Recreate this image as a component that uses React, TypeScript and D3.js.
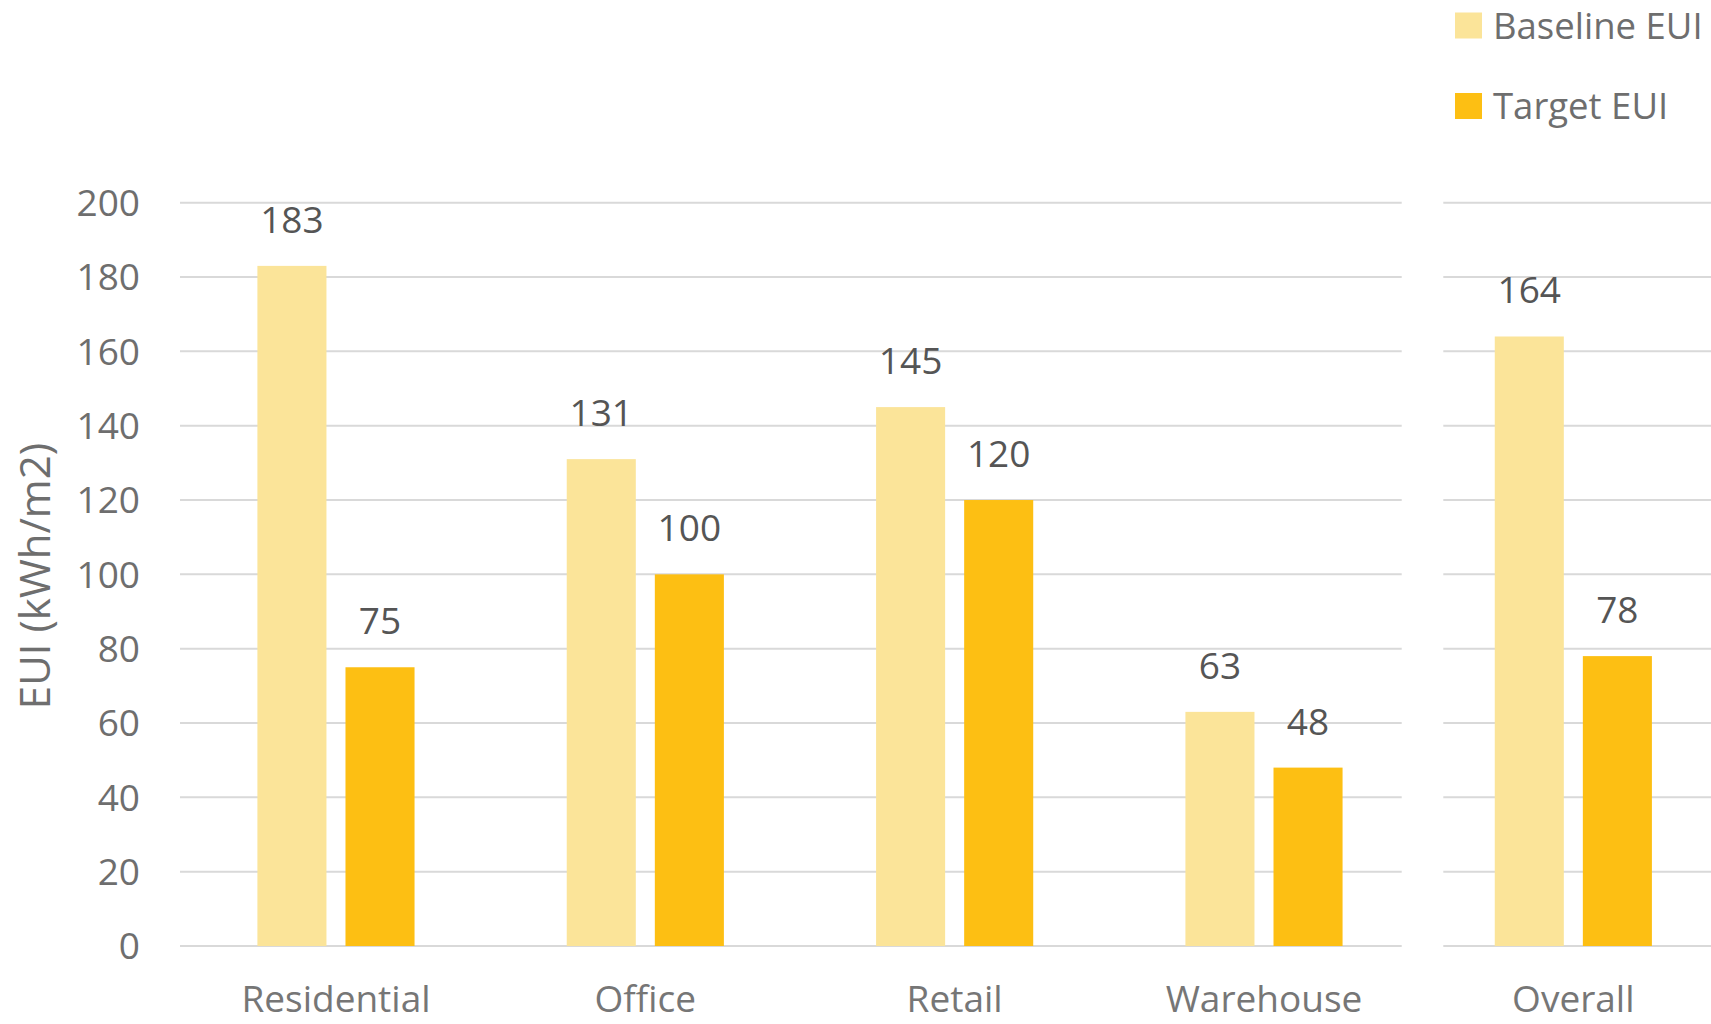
import React from "react";
import * as d3 from "d3";

const categories = ["Residential", "Office", "Retail", "Warehouse", "Overall"];
const baselineEUI = [183, 131, 145, 63, 164];
const targetEUI = [75, 100, 120, 48, 78];
const seriesNames = ["Baseline EUI", "Target EUI"];
const seriesColors = ["#fbe499", "#fdbf13"];
const yTicks = [0, 20, 40, 60, 80, 100, 120, 140, 160, 180, 200];
const yTitle = "EUI (kWh/m2)";

const W = 1711;
const H = 1024;
const FONT = "'Open Sans', 'Noto Sans', sans-serif";

export default function App() {
  const y = d3.scaleLinear().domain([0, 200]).range([946, 202.7]);
  const x0 = d3
    .scaleBand<string>()
    .domain(categories)
    .range([181.3, 1728])
    .paddingInner(0.492)
    .paddingOuter(0.246);
  const x1 = d3
    .scaleBand<string>()
    .domain(seriesNames)
    .range([0, x0.bandwidth()])
    .paddingInner(0.216);

  const series = [baselineEUI, targetEUI];
  const gridSegments: [number, number][] = [
    [180, 1401.7],
    [1443.3, W],
  ];

  return (
    <svg
      width={W}
      height={H}
      style={{ position: "absolute", left: 0, top: 0, background: "#fff" }}
      fontFamily={FONT}
    >
      <rect x={0} y={0} width={W} height={H} fill="#fff" />
      {/* gridlines */}
      {yTicks.map((t) =>
        gridSegments.map(([a, b], i) => (
          <line
            key={`g${t}-${i}`}
            x1={a}
            x2={b}
            y1={y(t)}
            y2={y(t)}
            stroke="#d9d9d9"
            strokeWidth={2}
          />
        ))
      )}
      {/* y tick labels */}
      {yTicks.map((t) => (
        <text
          key={`t${t}`}
          x={140}
          y={y(t)}
          dy="0.36em"
          textAnchor="end"
          fontSize={37}
          fill="#6e6e6e"
        >
          {t}
        </text>
      ))}
      {/* y title */}
      <text
        transform={`translate(50, ${576}) rotate(-90)`}
        textAnchor="middle"
        fontSize={42}
        fill="#6e6e6e"
      >
        {yTitle}
      </text>
      {/* bars */}
      {categories.map((c, ci) => (
        <g key={c} transform={`translate(${x0(c)},0)`}>
          {seriesNames.map((s, si) => {
            const v = series[si][ci];
            const bx = x1(s)!;
            const bw = x1.bandwidth();
            return (
              <g key={s}>
                <rect
                  x={bx}
                  y={y(v)}
                  width={bw}
                  height={y(0) - y(v)}
                  fill={seriesColors[si]}
                />
                <text
                  x={bx + bw / 2}
                  y={y(v) - 33}
                  textAnchor="middle"
                  fontSize={37}
                  fill="#555555"
                >
                  {v}
                </text>
              </g>
            );
          })}
          <text
            x={x0.bandwidth() / 2}
            y={1012}
            textAnchor="middle"
            fontSize={37}
            fill="#767676"
          >
            {c}
          </text>
        </g>
      ))}
      {/* legend */}
      {seriesNames.map((s, i) => {
        const cy = i === 0 ? 25.5 : 106;
        return (
          <g key={s}>
            <rect x={1455} y={cy - 13} width={27} height={26} fill={seriesColors[i]} />
            <text x={1493} y={cy} dy="0.36em" fontSize={36.5} fill="#6e6e6e">
              {s}
            </text>
          </g>
        );
      })}
    </svg>
  );
}
